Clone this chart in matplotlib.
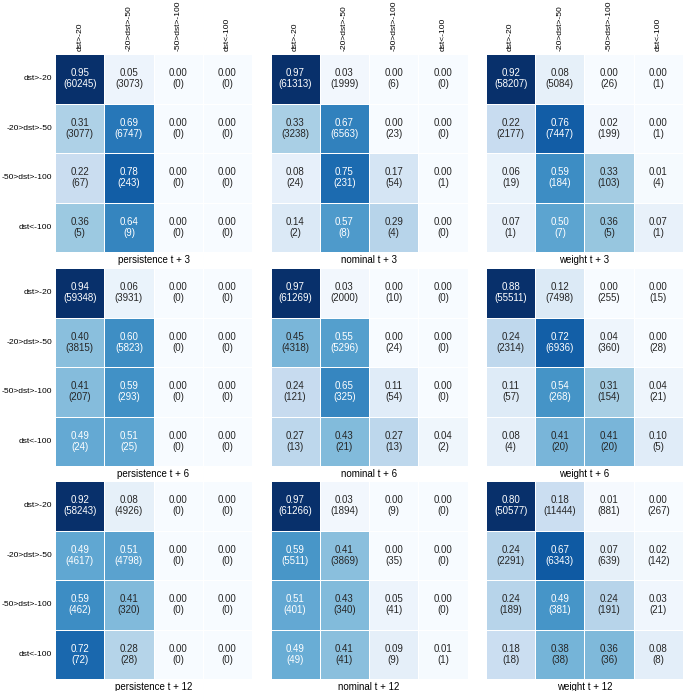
import numpy as np
import matplotlib
matplotlib.use('Agg')
import matplotlib.pyplot as plt
import seaborn as sns

plt.rcParams['font.family'] = ['Liberation Sans', 'DejaVu Sans']

# クラスラベル
classes = ['dst>-20', '-20>dst>-50', '-50>dst>-100', 'dst<-100']

# 各パネルのタイトル
titles = [['persistence t + 3', 'nominal t + 3', 'weight t + 3'],
          ['persistence t + 6', 'nominal t + 6', 'weight t + 6'],
          ['persistence t + 12', 'nominal t + 12', 'weight t + 12']]

# 割合（行ごと）
frac_pers_3 = [[0.95, 0.05, 0.00, 0.00], [0.31, 0.69, 0.00, 0.00],
               [0.22, 0.78, 0.00, 0.00], [0.36, 0.64, 0.00, 0.00]]
frac_nom_3 = [[0.97, 0.03, 0.00, 0.00], [0.33, 0.67, 0.00, 0.00],
              [0.08, 0.75, 0.17, 0.00], [0.14, 0.57, 0.29, 0.00]]
frac_wgt_3 = [[0.92, 0.08, 0.00, 0.00], [0.22, 0.76, 0.02, 0.00],
              [0.06, 0.59, 0.33, 0.01], [0.07, 0.50, 0.36, 0.07]]
frac_pers_6 = [[0.94, 0.06, 0.00, 0.00], [0.40, 0.60, 0.00, 0.00],
               [0.41, 0.59, 0.00, 0.00], [0.49, 0.51, 0.00, 0.00]]
frac_nom_6 = [[0.97, 0.03, 0.00, 0.00], [0.45, 0.55, 0.00, 0.00],
              [0.24, 0.65, 0.11, 0.00], [0.27, 0.43, 0.27, 0.04]]
frac_wgt_6 = [[0.88, 0.12, 0.00, 0.00], [0.24, 0.72, 0.04, 0.00],
              [0.11, 0.54, 0.31, 0.04], [0.08, 0.41, 0.41, 0.10]]
frac_pers_12 = [[0.92, 0.08, 0.00, 0.00], [0.49, 0.51, 0.00, 0.00],
                [0.59, 0.41, 0.00, 0.00], [0.72, 0.28, 0.00, 0.00]]
frac_nom_12 = [[0.97, 0.03, 0.00, 0.00], [0.59, 0.41, 0.00, 0.00],
               [0.51, 0.43, 0.05, 0.00], [0.49, 0.41, 0.09, 0.01]]
frac_wgt_12 = [[0.80, 0.18, 0.01, 0.00], [0.24, 0.67, 0.07, 0.02],
               [0.24, 0.49, 0.24, 0.03], [0.18, 0.38, 0.36, 0.08]]

# 件数
cnt_pers_3 = [[60245, 3073, 0, 0], [3077, 6747, 0, 0], [67, 243, 0, 0], [5, 9, 0, 0]]
cnt_nom_3 = [[61313, 1999, 6, 0], [3238, 6563, 23, 0], [24, 231, 54, 1], [2, 8, 4, 0]]
cnt_wgt_3 = [[58207, 5084, 26, 1], [2177, 7447, 199, 1], [19, 184, 103, 4], [1, 7, 5, 1]]
cnt_pers_6 = [[59348, 3931, 0, 0], [3815, 5823, 0, 0], [207, 293, 0, 0], [24, 25, 0, 0]]
cnt_nom_6 = [[61269, 2000, 10, 0], [4318, 5296, 24, 0], [121, 325, 54, 0], [13, 21, 13, 2]]
cnt_wgt_6 = [[55511, 7498, 255, 15], [2314, 6936, 360, 28], [57, 268, 154, 21], [4, 20, 20, 5]]
cnt_pers_12 = [[58243, 4926, 0, 0], [4617, 4798, 0, 0], [462, 320, 0, 0], [72, 28, 0, 0]]
cnt_nom_12 = [[61266, 1894, 9, 0], [5511, 3869, 35, 0], [401, 340, 41, 0], [49, 41, 9, 1]]
cnt_wgt_12 = [[50577, 11444, 881, 267], [2291, 6343, 639, 142], [189, 381, 191, 21], [18, 38, 36, 8]]

fracs = [[frac_pers_3, frac_nom_3, frac_wgt_3],
         [frac_pers_6, frac_nom_6, frac_wgt_6],
         [frac_pers_12, frac_nom_12, frac_wgt_12]]
cnts = [[cnt_pers_3, cnt_nom_3, cnt_wgt_3],
        [cnt_pers_6, cnt_nom_6, cnt_wgt_6],
        [cnt_pers_12, cnt_nom_12, cnt_wgt_12]]

W, H = 685, 691
fig = plt.figure(figsize=(W / 100, H / 100), dpi=100)

col_x = [55, 270.5, 486]
row_y = [54, 268, 481]
size_w, size_h = 197, 198

for i in range(3):
    for j in range(3):
        left = col_x[j] / W
        bottom = 1 - (row_y[i] + size_h) / H
        ax = fig.add_axes([left, bottom, size_w / W, size_h / H])
        f = np.array(fracs[i][j])
        c = np.array(cnts[i][j])
        labels = np.array([[f'{f[r, k]:.2f}\n({c[r, k]})' for k in range(4)] for r in range(4)])
        sns.heatmap(f, annot=labels, fmt='', cmap='Blues', cbar=False,
                    linewidths=0.5, linecolor='white', ax=ax,
                    annot_kws={'fontsize': 7, 'linespacing': 1.15},
                    xticklabels=classes if i == 0 else False,
                    yticklabels=classes if j == 0 else False)
        ax.xaxis.tick_top()
        ax.xaxis.set_label_position('bottom')
        ax.tick_params(axis='both', length=0, labelsize=6.1, pad=2)
        if i == 0:
            ax.set_xticklabels(classes, rotation=90)
        if j == 0:
            ax.set_yticklabels(classes, rotation=0)
        ax.set_xlabel(titles[i][j], fontsize=7, labelpad=2)

fig.savefig('out.png', dpi=100)
